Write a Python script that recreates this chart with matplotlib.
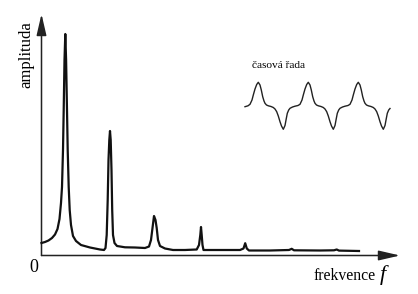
import matplotlib
matplotlib.use("Agg")
import matplotlib.pyplot as plt
from matplotlib.patches import FancyArrowPatch

# Spectrum curve (frequency position, amplitude) (pixel-like units)
spec_x = [41.5, 45, 48.5, 52, 55, 57.5, 59.5, 61, 62, 63, 63.7, 64.5, 65.3,
          66.1, 67, 67.7, 68.7, 69.7, 71, 73, 76, 81, 90, 100, 104,
          105.5, 106.7, 107.7, 108.5, 109.3, 110, 110.7, 111.5, 112.2, 113, 114.5, 117,
          125, 135, 145, 149, 151, 152.5, 154, 155.5, 156.7, 158, 160, 165, 173,
          185, 196.7, 199, 200.3, 201, 201.7, 202.5, 203.5, 220, 240,
          243.5, 245.2, 246.8, 249, 270, 289, 291.7, 294, 320, 334, 336.7, 339, 359]
spec_y = [243, 242, 240.5, 238, 234.5, 229, 219, 203, 187, 150, 110, 60, 34,
          60, 110, 150, 187, 210, 225, 236, 241, 245, 247.5, 249.5, 250,
          248, 235, 200, 160, 140, 131, 140, 170, 210, 235, 243, 246,
          247.3, 247.5, 248, 246.5, 240, 228, 216, 220, 228, 240, 246, 248.5, 250,
          250, 249.5, 245, 235, 227, 235, 245, 250, 250, 250,
          248.5, 243.2, 248.5, 250.5, 250.5, 250, 248.8, 250.3, 250.5, 250.3, 249.5, 250.6, 251]

# Time series inset
ts_x = [245, 248, 250, 252, 253.3, 255, 256.7, 258.3, 260, 261.3, 262.7, 264, 265, 266.5,
        268.3, 271, 273.3, 275, 276.7, 278.3, 280, 281.5, 283.3, 285, 286.2, 287.3, 288.7,
        290, 292.5,
        295, 298, 300, 302, 303.3, 305, 306.7, 308.3, 310, 311.3, 312.7, 314, 315, 316.5,
        318.3, 321, 323.3, 325, 326.7, 328.3, 330, 331.5, 333.3, 335, 336.2, 337.3, 338.7,
        340, 342.5,
        345, 348, 350, 352, 353.3, 355, 356.7, 358.3, 360, 361.3, 362.7, 364, 365, 366.5,
        368.3, 371, 373.3, 375, 376.7, 378.3, 380, 381.5, 383.3, 385, 386.2, 387.3, 388.7,
        390]
ts_y = [106.7, 105.8, 104.3, 100, 95, 89, 84.5, 82.3, 85, 90, 96.7, 101, 103.3, 105,
        105.8, 106.5, 107.5, 109, 111.7, 116, 121.7, 126, 129.3, 125.5, 119, 113.3, 110,
        108.3, 107,
        106.2, 105.5, 104.3, 100, 95, 89, 84.5, 82.3, 85, 90, 96.7, 101, 103.3, 105,
        105.8, 106.5, 107.5, 109, 111.7, 116, 121.7, 126, 129.3, 125.5, 119, 113.3, 110,
        108.3, 107,
        106.2, 105.5, 104.3, 100, 95, 89, 84.5, 82.3, 85, 90, 96.7, 101, 103.3, 105,
        105.8, 106.5, 107.5, 109, 111.7, 116, 121.7, 126, 129.3, 125.5, 119, 113.3, 110,
        108.5]

x_label = "frekvence"
x_symbol = "f"
y_label = "amplituda"
origin_label = "0"
inset_label = "časová řada"

fig = plt.figure(figsize=(4.18, 2.94), dpi=100)
ax = fig.add_axes([0, 0, 1, 1])
ax.set_xlim(0, 418)
ax.set_ylim(294, 0)
ax.axis("off")

serif = ["Liberation Serif", "DejaVu Serif"]

# axes with arrows
ax.add_patch(FancyArrowPatch((41.5, 255.5), (400, 255.5), arrowstyle="-|>,head_length=1.3,head_width=0.3",
                             mutation_scale=10, lw=1.1, color="#222222", shrinkA=0, shrinkB=0))
ax.add_patch(FancyArrowPatch((41.5, 255.5), (41.5, 14), arrowstyle="-|>,head_length=1.3,head_width=0.3",
                             mutation_scale=10, lw=1.1, color="#222222", shrinkA=0, shrinkB=0))

ax.plot(spec_x, spec_y, color="#111111", lw=1.6, solid_joinstyle="round")
ax.plot(ts_x, ts_y, color="#222222", lw=1.0)

ax.text(26, 55, y_label, rotation=90, ha="center", va="center", fontsize=12, family=serif)
ax.text(34, 268, origin_label, ha="center", va="center", fontsize=13, family=serif)
ax.text(313, 280, x_label, ha="left", va="baseline", fontsize=11.3, family=serif)
ax.text(380, 280, x_symbol, ha="left", va="baseline", fontsize=16, family=serif, style="italic")
ax.text(252.5, 66, inset_label, ha="left", va="center", fontsize=8.2, family=serif)

fig.savefig("out.png", dpi=100)
